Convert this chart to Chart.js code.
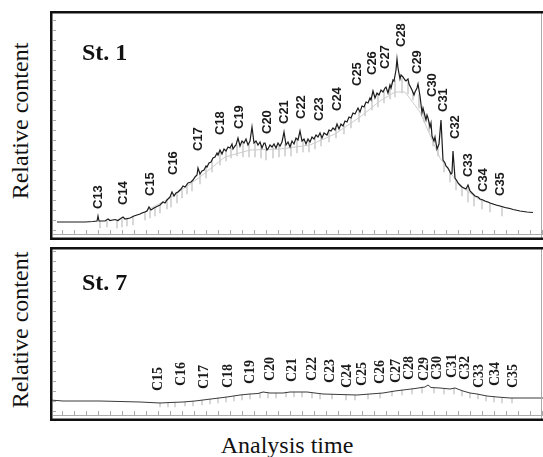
<!DOCTYPE html>
<html>
<head>
<meta charset="utf-8">
<script src="https://cdn.jsdelivr.net/npm/chart.js@4.4.0/dist/chart.umd.min.js"></script>
<style>
   body { margin: 0; background: #ffffff; width: 543px; height: 457px; overflow: hidden; position: relative; }
   canvas { position: absolute; }
   #st1Chart { left: 50px; top: 11px; }
   #st7Chart { left: 50px; top: 247px; }
   .serif { font-family: "Liberation Serif", "DejaVu Serif", "Times New Roman", Times, serif; color: #111; white-space: nowrap; position: absolute; }
   .ytitle { width: 220px; height: 24px; font-size: 24px; line-height: 24px; text-align: center; transform: rotate(-90deg); }
   .station { height: 24px; font-size: 24px; line-height: 24px; font-weight: bold; }
   #xtitle { left: 137px; top: 433px; width: 300px; font-size: 24px; line-height: 24px; text-align: center; }
</style>
</head>
<body>
<canvas id="st1Chart" width="493" height="229"></canvas>
<canvas id="st7Chart" width="493" height="174"></canvas>
<div class="serif ytitle" style="left:-90px; top:109px;">Relative content</div>
<div class="serif ytitle" style="left:-90px; top:318px;">Relative content</div>
<div class="serif station" style="left:82px; top:40px;">St. 1</div>
<div class="serif station" style="left:82px; top:270px;">St. 7</div>
<div class="serif" id="xtitle">Analysis time</div>

<script>
//1) DATA (analysis time in arbitrary units, relative signal)//
const st1Time = [7, 20, 35, 43, 47, 48, 49, 55, 58, 60, 65, 68, 70, 73, 75, 80, 84, 87, 90, 92,
   95, 97, 99, 101, 104, 106, 108, 110, 113, 115, 117, 120, 122, 124, 126, 128, 131, 133, 135, 138,
   141, 143, 145, 147, 148, 150, 152, 154, 156, 157, 159, 161, 163, 165, 167, 168, 170, 172, 174, 176,
   178, 180, 182, 183, 185, 186, 188, 190, 192, 194, 196, 198, 200, 202, 204, 206, 208, 210, 212, 214,
   215, 217, 218, 220, 222, 224, 226, 228, 230, 232, 234, 236, 238, 240, 242, 244, 246, 248, 250, 252,
   254, 256, 258, 260, 262, 264, 266, 268, 270, 272, 274, 277, 279, 281, 283, 285, 287, 289, 291, 293,
   295, 297, 299, 301, 303, 305, 307, 308, 310, 312, 314, 316, 318, 320, 321, 323, 325, 327, 329, 331,
   333, 335, 336, 338, 340, 341, 343, 344, 346, 347, 348, 350, 351, 353, 355, 356, 358, 359, 361, 362,
   364, 365, 367, 368, 370, 372, 373, 374, 376, 377, 378, 380, 381, 382, 384, 385, 387, 389, 391, 393,
   395, 396, 398, 399, 401, 402, 403, 405, 407, 408, 410, 412, 414, 416, 418, 420, 422, 425, 428, 430,
   433, 435, 438, 440, 443, 446, 450, 455, 460, 463, 470, 477, 483];
const st1Signal = [18, 18, 18, 18.5, 19, 24, 19, 19, 21, 19.5, 20.5, 19.5, 21, 23, 21, 22, 24, 25, 26, 27,
   28, 29, 33, 30, 32, 33, 34, 35, 38, 37, 40, 43, 48, 44, 47, 48, 51, 54, 53, 57,
   58, 60, 63, 65, 72, 66, 69, 70, 74, 73, 77, 78, 82, 83, 87, 85, 90, 86, 91, 89,
   93, 92, 96, 91, 94, 95, 102, 94, 99, 97, 101, 95, 99, 113, 97, 99, 95, 98, 92, 97,
   97, 90, 91, 95, 93, 96, 92, 97, 94, 98, 108, 95, 98, 93, 99, 96, 102, 100, 109, 99,
   101, 96, 101, 98, 103, 101, 105, 103, 107, 102, 107, 105, 110, 109, 112, 110, 116, 111, 116, 114,
   119, 118, 123, 122, 127, 126, 130, 132, 128, 134, 133, 138, 137, 142, 140, 149, 142, 147, 145, 150,
   148, 152, 153, 147, 155, 152, 160, 159, 170, 181, 172, 161, 165, 163, 160, 159, 161, 156, 152, 150,
   145, 148, 152, 156, 144, 127, 132, 128, 120, 125, 122, 113, 117, 104, 99, 103, 91, 96, 120, 80,
   77, 74, 72, 70, 66, 67, 89, 62, 59, 57, 55, 53, 52, 51, 55, 49, 47, 44, 43, 41,
   40, 39, 38, 37, 36, 35, 34, 32.5, 31.5, 30.5, 29, 28, 27.5];

// smooth hump under the St. 1 trace
const st1BaseTime = [90, 120, 150, 175, 200, 230, 260, 285, 310, 330, 345, 355, 370, 390, 410, 430, 460];
const st1Base = [26, 42, 63, 83, 90, 91, 95, 106, 123, 139, 148, 148, 128, 82, 54, 40, 31];

// faint gray noise hairlines hanging under the St. 1 trace: [time, low, high]
const st1NoiseTime = [50, 57, 67, 72, 77, 83, 95, 100, 105, 110, 117, 121, 127, 132, 137, 142, 150, 156, 162, 170,
   176, 181, 187, 193, 199, 205, 211, 216, 223, 229, 235, 241, 247, 253, 259, 265, 271, 279, 286, 294,
   301, 309, 315, 322, 328, 334, 340, 345, 352, 358, 363, 369, 374, 379, 383, 388, 394, 400, 406, 412,
   418, 424, 432, 440, 452];
const st1NoiseLow = [12, 13, 12, 13, 14, 15, 20, 22, 24, 27, 31, 33, 37, 42, 46, 49, 56, 62, 68, 75,
   79, 82, 84, 83, 83, 83, 82, 80, 82, 83, 84, 84, 87, 88, 88, 91, 94, 98, 102, 106,
   112, 118, 124, 130, 133, 137, 141, 143, 147, 146, 140, 132, 118, 108, 94, 84, 68, 58, 50, 44,
   38, 34, 31, 28, 24];
const st1NoiseHigh = [19, 19, 20, 21, 22, 24, 28, 31, 33, 35, 40, 44, 48, 52, 56, 59, 66, 73, 80, 88,
   90, 92, 95, 97, 96, 97, 95, 92, 93, 95, 96, 97, 100, 100, 99, 102, 104, 110, 112, 115,
   122, 129, 134, 141, 146, 150, 154, 160, 162, 158, 148, 146, 128, 118, 102, 93, 78, 68, 60, 53,
   52, 45, 40, 37, 33];

const st1PeakNames = ['C13', 'C14', 'C15', 'C16', 'C17', 'C18', 'C19', 'C20', 'C21', 'C22', 'C23', 'C24',
   'C25', 'C26', 'C27', 'C28', 'C29', 'C30', 'C31', 'C32', 'C33', 'C34', 'C35'];
const st1PeakTime = [48, 73, 100, 123, 148, 170, 189, 217, 234, 251, 269, 287,
   307, 322, 335, 351, 367, 382, 393, 405, 418, 433, 450];
const st1PeakLabelAt = [31, 35, 44, 65, 89, 105, 111, 106, 116, 121, 119, 129,
   154, 165, 171, 193, 166, 143, 128, 101, 63, 48, 44];

const st7Time = [0, 13, 50, 90, 110, 120, 133, 145, 153, 165, 177, 190, 200, 208, 213, 220, 233, 240,
   250, 257, 265, 273, 290, 307, 320, 333, 345, 353, 365, 375, 378, 381, 390, 400, 405, 413, 420, 427,
   437, 447, 460, 470, 493];
const st7Signal = [21, 20, 20, 19, 18, 18.5, 19, 20, 21, 22.5, 24, 26, 27, 27.5, 29, 28, 28, 29,
   29, 29, 28, 27, 26.5, 26, 27, 28, 30, 31, 32.5, 34, 36, 33.5, 33, 32, 33, 30, 28, 27,
   25, 24, 23, 23, 23];

const st7NoiseTime = [110, 118, 125, 135, 143, 152, 160, 168, 176, 184, 192, 200, 210, 218, 226, 236, 244, 252, 262, 270,
   282, 296, 305, 318, 330, 342, 352, 362, 372, 384, 394, 404, 412, 420, 428, 436, 444, 452, 462];
const st7NoiseLow = [14, 14, 14, 15, 15, 16, 17, 18, 19, 20, 21, 22, 23, 23, 23, 24, 24, 24, 23, 22,
   22, 21, 21, 22, 23, 25, 26, 27, 28, 28, 27, 27, 25, 23, 22, 20, 19, 18, 18];
const st7NoiseHigh = [18, 18.5, 18.5, 19, 20, 21, 22, 23, 24, 25, 26, 27, 28, 28, 28, 29, 29, 29, 28, 27,
   27, 26, 26, 27, 28, 30, 31, 32, 34, 33, 32, 33, 30, 28, 27, 25, 24, 23, 23];

const st7PeakNames = ['C15', 'C16', 'C17', 'C18', 'C19', 'C20', 'C21', 'C22', 'C23', 'C24', 'C25',
   'C26', 'C27', 'C28', 'C29', 'C30', 'C31', 'C32', 'C33', 'C34', 'C35'];
const st7PeakTime = [108, 131, 154, 178, 200, 220, 242, 262, 280, 297, 312,
   330, 346, 359, 374, 387, 402, 415, 429, 445, 463];
const st7PeakLabelAt = [30, 35, 32, 33, 37, 40, 39, 40, 38, 33, 35,
   37, 38, 41, 40, 41, 43, 41, 33, 35, 33];

const timeMax = 493;

//2) HELPERS//
const toPoints = (xs, ys) => xs.map((x, i) => ({ x: x, y: ys[i] }));
const toRanges = (xs, lows, highs) => xs.map((x, i) => ({ x: x, y: [lows[i], highs[i]] }));

// frame with minor ticks, like the original plot box
const framePlugin = {
   id: 'frame',
   afterDraw(chart) {
      const c = chart.ctx;
      const w = chart.width, h = chart.height;
      const xs = chart.scales.x, ys = chart.scales.y;
      c.save();
      c.strokeStyle = '#aaaaaa';
      c.lineWidth = 1;
      c.beginPath();
      for (let t = 0; t <= timeMax; t += 12) {
         const px = Math.round(xs.getPixelForValue(t)) + 0.5;
         c.moveTo(px, h - 6);
         c.lineTo(px, h - 10);
      }
      for (let v = 0; v <= ys.max; v += 10) {
         const py = Math.round(ys.getPixelForValue(v)) + 0.5;
         c.moveTo(3, py);
         c.lineTo(6, py);
      }
      c.moveTo(3, h - 5.5);
      c.lineTo(w, h - 5.5);
      c.moveTo(w - 1.5, 0);
      c.lineTo(w - 1.5, h);
      c.stroke();
      c.strokeStyle = '#111111';
      c.lineWidth = 2.5;
      c.beginPath();
      c.moveTo(w, 1.25);
      c.lineTo(1.25, 1.25);
      c.lineTo(1.25, h - 1.25);
      c.lineTo(w, h - 1.25);
      c.stroke();
      c.restore();
   }
};

// vertical carbon-number labels over the peaks
const peakLabelPlugin = {
   id: 'peakLabels',
   afterDatasetsDraw(chart, args, opts) {
      const c = chart.ctx;
      const xs = chart.scales.x, ys = chart.scales.y;
      c.save();
      c.fillStyle = '#1a1a1a';
      c.font = opts.font;
      c.textAlign = 'left';
      c.textBaseline = 'middle';
      opts.names.forEach((name, i) => {
         c.save();
         c.translate(xs.getPixelForValue(opts.times[i]), ys.getPixelForValue(opts.at[i]));
         c.rotate(-Math.PI / 2);
         c.fillText(name, 0, 0);
         c.restore();
      });
      c.restore();
   }
};

const makeChart = (id, datasets, yMax, labelOpts) => new Chart(document.getElementById(id), {
   type: 'line',
   data: { datasets: datasets },
   options: {
      responsive: false,
      animation: false,
      layout: { padding: 0 },
      elements: { point: { radius: 0 }, line: { tension: 0 } },
      scales: {
         x: { type: 'linear', min: 0, max: timeMax, display: false, offset: false },
         y: { min: 0, max: yMax, display: false }
      },
      plugins: {
         legend: { display: false },
         tooltip: { enabled: false },
         peakLabels: labelOpts
      }
   },
   plugins: [framePlugin, peakLabelPlugin]
});

const noiseSet = (data) => ({
   type: 'bar',
   data: data,
   backgroundColor: 'rgba(150, 150, 150, 0.45)',
   barThickness: 1,
   grouped: false,
   order: 3
});

//3) CHARTS//
makeChart('st1Chart', [noiseSet(toRanges(st1NoiseTime, st1NoiseLow, st1NoiseHigh)), {
   data: toPoints(st1BaseTime, st1Base),
   borderColor: '#cccccc',
   borderWidth: 1,
   order: 2
}, {
   data: toPoints(st1Time, st1Signal),
   borderColor: '#1c1c1c',
   borderWidth: 1.2,
   order: 1
}], 229, {
   names: st1PeakNames, times: st1PeakTime, at: st1PeakLabelAt,
   font: 'bold 13px "Liberation Sans", Arial, sans-serif'
});

makeChart('st7Chart', [noiseSet(toRanges(st7NoiseTime, st7NoiseLow, st7NoiseHigh)), {
   data: toPoints(st7Time, st7Signal),
   borderColor: '#3a3a3a',
   borderWidth: 1,
   order: 1
}], 174, {
   names: st7PeakNames, times: st7PeakTime, at: st7PeakLabelAt,
   font: 'bold 14px "Liberation Serif", "DejaVu Serif", "Times New Roman", serif'
});
</script>
</body>
</html>
